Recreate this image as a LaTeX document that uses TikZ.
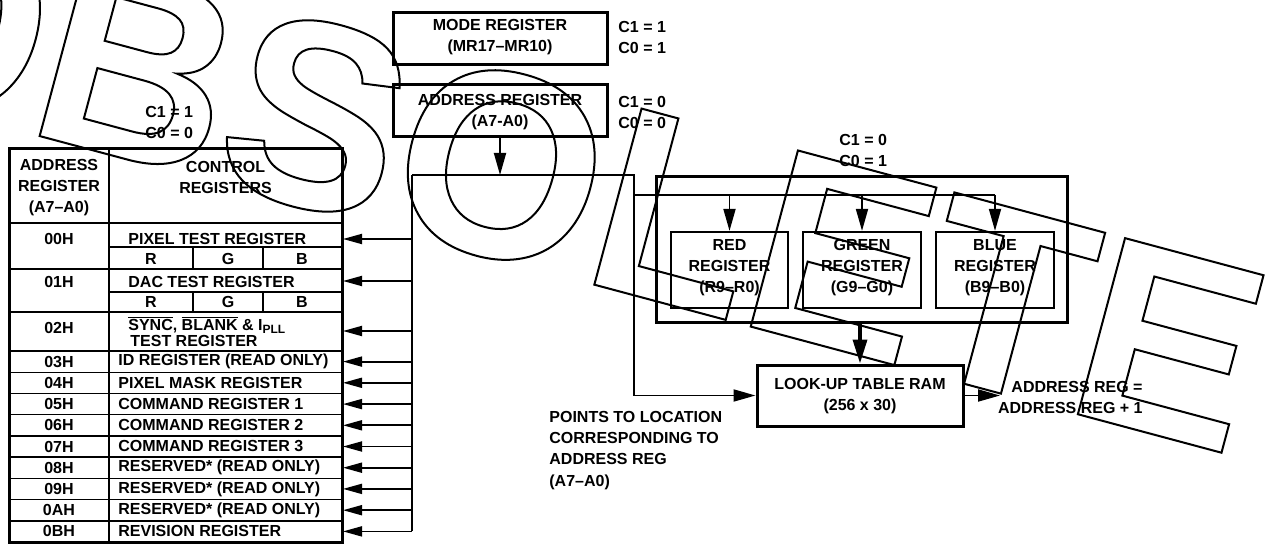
\documentclass[tikz,border=0pt]{standalone}
\usepackage{fontspec}
\setmainfont{Liberation Sans}
\usetikzlibrary{arrows.meta}
\newcommand\wmon{\special{pdf:literal direct 1 Tr 1 w}}
\newcommand\wmoff{\special{pdf:literal direct 0 Tr}}
\begin{document}
\begin{tikzpicture}[x=0.5pt,y=-0.5pt,
  tx/.style={font=\fontsize{8}{10.5}\selectfont\bfseries, inner sep=0pt, align=center},
  thickbox/.style={draw, line width=1.5pt, inner sep=0pt},
  regbox/.style={draw, line width=1.1pt, inner sep=0pt},
  conn/.style={line width=0.9pt},
  feed/.style={line width=0.9pt, -{Triangle[length=9.5pt,width=5pt]}},
  downarr/.style={line width=0.9pt, -{Triangle[length=11pt,width=6pt]}},
  bigarr/.style={line width=1.8pt, -{Triangle[length=12pt,width=7pt]}},
  thin/.style={line width=0.7pt},
  wm/.style={font=\fontsize{132.5}{132.5}\selectfont\bfseries, inner sep=0pt}]
\useasboundingbox (0,0) rectangle (1274,545);
\clip (0,0) rectangle (1274,545);

% ---------- table ----------
\draw[thin] (109,247) -- (342,247);
\draw[thin] (9,269) -- (342,269);
\draw[thin] (109,292) -- (342,292);
\draw[thin] (9,312) -- (342,312);
\draw[thin] (193,247) -- (193,269) (263,247) -- (263,269);
\draw[thin] (193,292) -- (193,312) (263,292) -- (263,312);
\foreach \yy in {351,372.2,393.4,414.7,435.9,457.1,478.3,499.5,520.8}
  \draw[thin] (9,\yy) -- (342,\yy);
\draw[line width=1.2pt] (9,223) -- (342,223);
\draw[line width=1.1pt] (109,149) -- (109,542);
\draw[line width=1.5pt] (9,149) rectangle (342,542);

\node[tx] (hAddr) at (59,188) {ADDRESS\\REGISTER\\(A7--A0)};
\node[tx] (hCtrl) at (225.5,177.5) {CONTROL\\REGISTERS};

\node[tx] (k00) at (59,239) {00H};
\node[tx, anchor=west] (c00) at (128,239) {PIXEL TEST REGISTER};
\node[tx] (r1) at (151,259) {R};
\node[tx] (g1) at (228,259) {G};
\node[tx] (b1) at (302,259) {B};
\node[tx] (k01) at (59,282) {01H};
\node[tx, anchor=west] (c01) at (128,282) {DAC TEST REGISTER};
\node[tx] (r2) at (151,302) {R};
\node[tx] (g2) at (228,302) {G};
\node[tx] (b2) at (302,302) {B};
\node[tx] (k02) at (59,328) {02H};
\node[tx, anchor=west, align=left, font=\fontsize{8}{7.6}\selectfont\bfseries] (c02) at (128,331)
  {$\overline{\mbox{SYNC}}$, $\overline{\mbox{BLANK}}$ \& I\textsubscript{PLL}\\\hspace{1pt}TEST REGISTER};

\foreach \nm/\yy/\lab in {03/361.6/ID REGISTER (READ ONLY),
                         04/382.8/PIXEL MASK REGISTER,
                         05/404.1/COMMAND REGISTER 1,
                         06/425.3/COMMAND REGISTER 2,
                         07/446.5/COMMAND REGISTER 3,
                         08/467.7/RESERVED* (READ ONLY),
                         09/488.9/RESERVED* (READ ONLY),
                         0A/510.2/RESERVED* (READ ONLY),
                         0B/531.4/REVISION REGISTER}{
  \node[tx] (k\nm) at (59,\yy) {\nm H};
  \node[tx, anchor=west] (c\nm) at (118,\yy) {\lab};
}

% ---------- registers ----------
\node[thickbox, minimum width=107pt, minimum height=26pt] (mode) at (500,39) {};
\node[tx] (modeT) at (500,37) {MODE REGISTER\\(MR17--MR10)};
\node[thickbox, minimum width=107pt, minimum height=26pt] (addr) at (500,111) {};
\node[tx] (addrT) at (500,112) {ADDRESS REGISTER\\(A7-A0)};

\node[tx, align=left, anchor=west] (cm) at (618,37.5) {C1 = 1\\C0 = 1};
\node[tx, align=left, anchor=west] (ca) at (618,112) {C1 = 0\\C0 = 0};
\node[tx, align=left, anchor=west] (ct) at (145,122.5) {C1 = 1\\C0 = 0};
\node[tx, align=left, anchor=west] (cr) at (839,150) {C1 = 0\\C0 = 1};

\node[thickbox, minimum width=205.5pt, minimum height=72.5pt] (big) at (861.5,249.5) {};
\node[regbox, minimum width=58.5pt, minimum height=38pt] (red) at (729.5,270) {};
\node[regbox, minimum width=59pt, minimum height=38pt] (green) at (862,270) {};
\node[regbox, minimum width=59pt, minimum height=38pt] (blue) at (995,270) {};
\node[tx] (redT) at (729.5,267.5) {RED\\REGISTER\\(R9--R0)};
\node[tx] (greenT) at (862,267.5) {GREEN\\REGISTER\\(G9--G0)};
\node[tx] (blueT) at (995,267.5) {BLUE\\REGISTER\\(B9--B0)};

\node[thickbox, minimum width=103pt, minimum height=30.5pt] (lut) at (860,395.5) {};
\node[tx] (lutT) at (860,396) {LOOK-UP TABLE RAM\\(256 x 30)};

\node[tx, align=right, anchor=east] (inc) at (1143,397.5) {ADDRESS REG =\\ADDRESS REG + 1};
\node[tx, align=left, anchor=north west, font=\fontsize{8}{10.6}\selectfont\bfseries] (pts) at (549,411)
  {POINTS TO LOCATION\\CORRESPONDING TO\\ADDRESS REG\\(A7--A0)};

% ---------- connectors ----------
\coordinate (bL) at (412,175);
\coordinate (bR) at (634,175);
\coordinate (sL) at (634,195);
\coordinate (sR) at (995,195);
\coordinate (outTip) at (1000,395.5);
\draw[downarr] (addr.south) -- (addr.south |- bL);
\draw[conn] (bL) -- (bR) -- (bR |- lut.west);
\draw[downarr] (bR |- lut.west) -- (lut.west);
\draw[conn] (sL) -- (sR);
\draw[downarr] (red.north |- sL) -- (red.north);
\draw[downarr] (green.north |- sL) -- (green.north);
\draw[downarr] (sR) -- (blue.north);
\draw[bigarr] (lut.north |- big.south) -- (lut.north);
\draw[downarr] (lut.east) -- (outTip);

\foreach \nm/\yy in {00/239,01/281,02/331,03/361.6,04/382.8,05/404.1,06/425.3,07/446.5,08/467.7,09/488.9,0A/510.2,0B/531.4}{
  \coordinate (in\nm) at (343,\yy);
  \coordinate (bus\nm) at (412,\yy);
  \draw[feed] (bus\nm) -- (in\nm);
}
\draw[conn] (bL) -- (bus0B);

% ---------- watermark ----------
\node[wm, rotate=-15, anchor=base west] (wmark) at (-177,78) {\wmon OBSOLETE\wmoff};
\end{tikzpicture}
\end{document}
